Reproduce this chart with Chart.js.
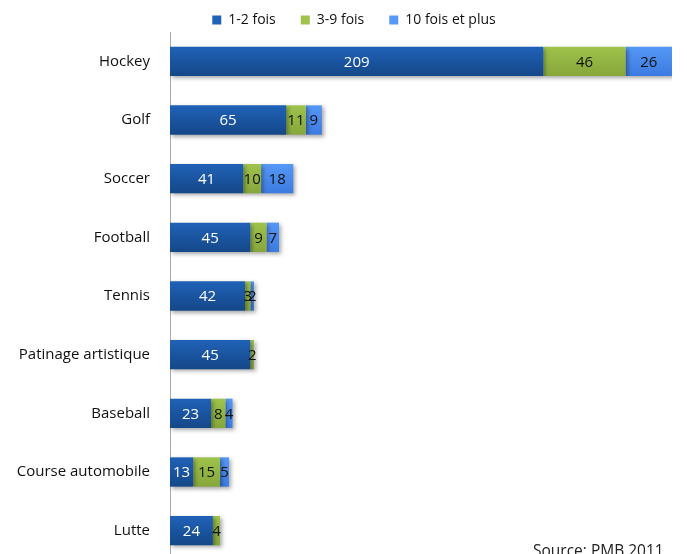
<!DOCTYPE html>
<html>
<head>
<meta charset="utf-8">
<script src="https://cdn.jsdelivr.net/npm/chart.js@4.4.0/dist/chart.umd.min.js"></script>
<style>
  html, body { margin: 0; padding: 0; background: #fff; overflow: hidden; }
  #wrap { position: relative; width: 687px; height: 581px; }
  #source { position: absolute; left: 533px; top: 539px; font: 15.5px "Open Sans", sans-serif; color: #222; }
</style>
</head>
<body>
<div id="wrap">
  <canvas id="sportsChart" width="687" height="581"></canvas>
  <div id="source">Source: PMB 2011</div>
</div>
<script>
const sports = ['Hockey', 'Golf', 'Soccer', 'Football', 'Tennis', 'Patinage artistique', 'Baseball', 'Course automobile', 'Lutte'];
const once12 = [209, 65, 41, 45, 42, 45, 23, 13, 24];
const times39 = [46, 11, 10, 9, 3, 2, 8, 15, 4];
const times10plus = [26, 9, 18, 7, 2, null, 4, 5, null];
const seriesNames = ['1-2 fois', '3-9 fois', '10 fois et plus'];

// vertical shading on each bar, lighter on top
function shade(top, bottom) {
    return function (c) {
        const ch = c.chart;
        if (!ch.chartArea || c.dataIndex == null || !ch.scales.y) return bottom;
        const cy = ch.scales.y.getPixelForValue(c.dataIndex);
        const g = ch.ctx.createLinearGradient(0, cy - 15, 0, cy + 15);
        g.addColorStop(0, top);
        g.addColorStop(1, bottom);
        return g;
    };
}

// writes each segment's value in the middle of it
const segmentLabels = {
    id: 'segmentLabels',
    afterDatasetsDraw(chart) {
        const ctx = chart.ctx;
        ctx.save();
        ctx.font = '15px "Open Sans", sans-serif';
        ctx.textAlign = 'center';
        ctx.textBaseline = 'middle';
        chart.data.datasets.forEach((ds, i) => {
            const meta = chart.getDatasetMeta(i);
            meta.data.forEach((bar, j) => {
                const v = ds.data[j];
                if (v == null) return;
                const mid = (bar.x + bar.base) / 2;
                ctx.fillStyle = i === 0 ? '#fff' : '#111';
                ctx.fillText(v, mid, bar.y + 1);
            });
        });
        ctx.restore();
    }
};

// soft drop shadow under the bars
const barShadow = {
    id: 'barShadow',
    beforeDatasetsDraw(chart) {
        const ctx = chart.ctx;
        ctx.save();
        ctx.shadowColor = 'rgba(0,0,0,0.35)';
        ctx.shadowBlur = 4;
        ctx.shadowOffsetX = 2;
        ctx.shadowOffsetY = 2;
    },
    afterDatasetsDraw(chart) {
        chart.ctx.restore();
    }
};

// nudge the legend a bit to the right
const legendShift = {
    id: 'legendShift',
    afterLayout(chart) {
        if (chart.legend) chart.legend.left += 36;
    }
};

const ctx = document.getElementById('sportsChart').getContext('2d');
const sportsChart = new Chart(ctx, {
    type: 'bar',
    data: {
        labels: sports,
        datasets: [
            { label: seriesNames[0], data: once12, backgroundColor: shade('#2062b8', '#144787') },
            { label: seriesNames[1], data: times39, backgroundColor: shade('#9fc34c', '#86a63a') },
            { label: seriesNames[2], data: times10plus, backgroundColor: shade('#5598f6', '#3c7ae0') }
        ]
    },
    options: {
        indexAxis: 'y',
        responsive: false,
        animation: false,
        layout: { padding: { left: 0, right: 15, top: -12, bottom: 3 } },
        datasets: { bar: { categoryPercentage: 1, barPercentage: 0.5 } },
        scales: {
            x: { stacked: true, display: false, min: 0, max: 281 },
            y: {
                stacked: true,
                grid: { display: false },
                border: { display: true, color: '#aaa', width: 1 },
                ticks: { color: '#111', padding: 12, font: { family: '"Open Sans", sans-serif', size: 15 } },
                afterFit(scale) { scale.width = 170; }
            }
        },
        plugins: {
            legend: {
                position: 'top',
                maxHeight: 44,
                labels: {
                    boxWidth: 9,
                    boxHeight: 9,
                    padding: 25,
                    color: '#111',
                    font: { family: '"Open Sans", sans-serif', size: 14 }
                }
            },
            tooltip: { enabled: false }
        }
    },
    plugins: [legendShift, barShadow, segmentLabels]
});
</script>
</body>
</html>
